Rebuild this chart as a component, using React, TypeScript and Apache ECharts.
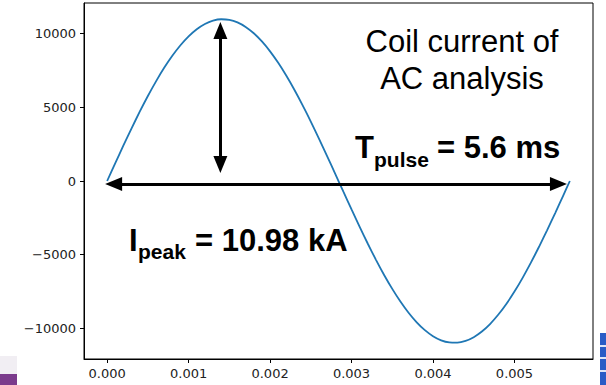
import React, { useEffect, useRef } from "react";
import * as echarts from "echarts";

// time (s) and coil current (A)
const timeS = [
  0, 0.0001, 0.0002, 0.0003, 0.0004, 0.0005, 0.0006, 0.0007, 0.0008, 0.0009,
  0.001, 0.0011, 0.0012, 0.0013, 0.0014, 0.0015, 0.0016, 0.0017, 0.0018, 0.0019,
  0.002, 0.0021, 0.0022, 0.0023, 0.0024, 0.0025, 0.0026, 0.0027, 0.0028, 0.0029,
  0.003, 0.0031, 0.0032, 0.0033, 0.0034, 0.0035, 0.0036, 0.0037, 0.0038, 0.0039,
  0.004, 0.0041, 0.0042, 0.0043, 0.0044, 0.0045, 0.0046, 0.0047, 0.0048, 0.0049,
  0.005, 0.0051, 0.0052, 0.0053, 0.0054, 0.0055, 0.0056, 0.00568,
];
const currentA = [
  0, 1212, 2410, 3577, 4702, 5768, 6762, 7678, 8495, 9213,
  9816, 10299, 10657, 10883, 10977, 10937, 10763, 10457, 10025, 9468,
  8797, 8017, 7139, 6178, 5137, 4033, 2881, 1693, 486, -728,
  -1933, -3115, -4258, -5348, -6374, -7321, -8180, -8940, -9589, -10121,
  -10529, -10809, -10956, -10969, -10848, -10596, -10212, -9704, -9078, -8341,
  -7503, -6571, -5559, -4480, -3348, -2172, -971, 0,
];
const xTicks = [0, 0.001, 0.002, 0.003, 0.004, 0.005];
const yTicks = [-10000, -5000, 0, 5000, 10000];
const xRange = [-0.000284, 0.005964];
const yRange = [-12078, 12078];
// annotation arrows (data coords of the arrow-head centres)
const arrowPulse = [[0.00008, -200], [0.00554, -200]];
const arrowPeak = [[0.00139, 1120], [0.00139, 10210]];

export default function App() {
  const ref = useRef<HTMLDivElement>(null);
  useEffect(() => {
    document.body.style.margin = "0";
    const chart = echarts.init(ref.current!, null, { renderer: "svg" });
    const tickFont = { fontFamily: "DejaVu Sans", fontSize: 13, color: "#222" };
    const boldMain = { fontFamily: "Liberation Sans", fontWeight: "bold", fontSize: 31, fill: "#000" };
    const boldSub = { fontFamily: "Liberation Sans", fontWeight: "bold", fontSize: 21, fill: "#000" };
    const reg = { fontFamily: "Liberation Sans", fontSize: 31, fill: "#000" };
    chart.setOption({
      animation: false,
      grid: {
        left: 84, top: 3, right: 13, bottom: 26,
        show: true, borderColor: "#000", borderWidth: 1, backgroundColor: "transparent",
      },
      xAxis: {
        type: "value", min: xRange[0], max: xRange[1],
        splitLine: { show: false },
        axisLine: { show: true, onZero: false, lineStyle: { color: "#000", width: 1 } },
        axisTick: { show: true, length: 4, customValues: xTicks, lineStyle: { color: "#000" } },
        axisLabel: {
          ...tickFont, margin: 8, customValues: xTicks,
          formatter: (v: number) => v.toFixed(3),
        },
      },
      yAxis: {
        type: "value", min: yRange[0], max: yRange[1],
        splitLine: { show: false },
        axisLine: { show: true, onZero: false, lineStyle: { color: "#000", width: 1 } },
        axisTick: { show: true, length: 4, customValues: yTicks, lineStyle: { color: "#000" } },
        axisLabel: {
          ...tickFont, margin: 8, customValues: yTicks,
          formatter: (v: number) => (v < 0 ? "\u2212" + Math.abs(v) : String(v)),
        },
      },
      series: [
        {
          type: "line",
          data: timeS.map((t, i) => [t, currentA[i]]),
          showSymbol: false,
          smooth: 0.2,
          lineStyle: { color: "#1f77b4", width: 1.8 },
          silent: true,
          markLine: {
            silent: true,
            symbol: ["triangle", "triangle"],
            symbolSize: [14, 17],
            label: { show: false },
            lineStyle: { color: "#000", width: 3, type: "solid" },
            itemStyle: { color: "#000" },
            data: [
              [{ coord: arrowPulse[0] }, { coord: arrowPulse[1] }],
              [{ coord: arrowPeak[0] }, { coord: arrowPeak[1] }],
            ],
          },
        },
      ],
      graphic: [
        { type: "text", x: 462, y: 41, style: { ...reg, text: "Coil current of", align: "center", verticalAlign: "middle" } },
        { type: "text", x: 462, y: 78, style: { ...reg, text: "AC analysis", align: "center", verticalAlign: "middle" } },
        { type: "text", x: 355, y: 147, style: { ...boldMain, text: "T", align: "left", verticalAlign: "middle" } },
        { type: "text", x: 374, y: 159, style: { ...boldSub, text: "pulse", align: "left", verticalAlign: "middle" } },
        { type: "text", x: 437, y: 147, style: { ...boldMain, text: "= 5.6 ms", align: "left", verticalAlign: "middle" } },
        { type: "text", x: 129, y: 240, style: { ...boldMain, text: "I", align: "left", verticalAlign: "middle" } },
        { type: "text", x: 138, y: 251, style: { ...boldSub, text: "peak", align: "left", verticalAlign: "middle" } },
        { type: "text", x: 195, y: 240, style: { ...boldMain, text: "= 10.98 kA", align: "left", verticalAlign: "middle" } },
        { type: "rect", shape: { x: 0, y: 374, width: 17, height: 11 }, style: { fill: "#7b3b8c" } },
        { type: "rect", shape: { x: 0, y: 356, width: 17, height: 18 }, style: { fill: "#f1eef3" } },
        { type: "rect", shape: { x: 600, y: 333, width: 6, height: 52 }, style: { fill: "#2a5cc6" } },
        { type: "rect", shape: { x: 600, y: 345, width: 6, height: 2 }, style: { fill: "#dfe7f7" } },
        { type: "rect", shape: { x: 600, y: 357, width: 6, height: 2 }, style: { fill: "#dfe7f7" } },
        { type: "rect", shape: { x: 600, y: 370, width: 6, height: 2 }, style: { fill: "#dfe7f7" } },
      ],
    });
    return () => chart.dispose();
  }, []);
  return (
    <div
      ref={ref}
      style={{ position: "absolute", left: 0, top: 0, width: 606, height: 385, background: "#fff" }}
    />
  );
}
